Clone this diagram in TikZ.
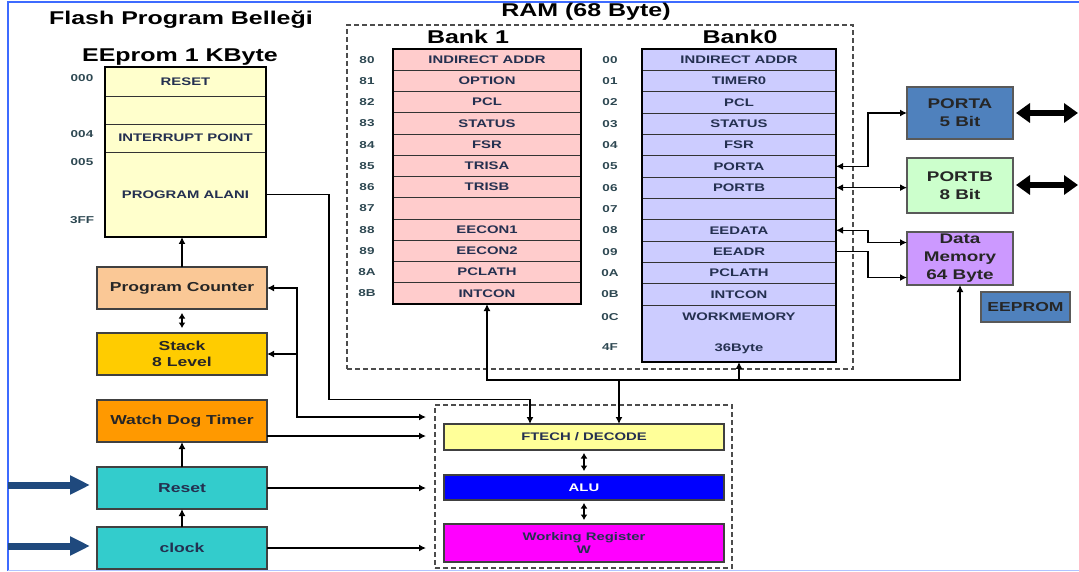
\documentclass[tikz,border=0pt]{standalone}
\usepackage{fontspec}
\setmainfont{Liberation Sans}[FakeStretch=1.35]
\usetikzlibrary{positioning, arrows.meta}

\definecolor{edgeblue}{HTML}{3D6BFF}
\definecolor{eeyellow}{HTML}{FFFFCC}
\definecolor{bankpink}{HTML}{FFCCCC}
\definecolor{banklav}{HTML}{CCCCFF}
\definecolor{pcpeach}{HTML}{FAC896}
\definecolor{stackgold}{HTML}{FFCC00}
\definecolor{wdtorange}{HTML}{FF9900}
\definecolor{resetteal}{HTML}{33CCCC}
\definecolor{fetchyellow}{HTML}{FFFF99}
\definecolor{alublue}{HTML}{0000FF}
\definecolor{wregmag}{HTML}{FF00FF}
\definecolor{portblue}{HTML}{4F81BD}
\definecolor{portgreen}{HTML}{CCFFCC}
\definecolor{memviolet}{HTML}{CC99FF}
\definecolor{inblue}{HTML}{1F497D}
\definecolor{regtext}{HTML}{243050}
\definecolor{addrtext}{HTML}{2E4852}

\begin{document}
\begin{tikzpicture}
  [
    x = 1pt, y = -1pt,  % pixel grid, y grows downwards
    every node/.style = {inner sep=0pt, outer sep=0pt, align=center},
    box/.style = {draw=black!75, line width=1.2pt, minimum width=170, minimum height=42,
                  text=black!85, font=\bfseries\fontsize{13}{15.5}\selectfont},
    reg/.style = {draw=black!80, line width=0.7pt, minimum height=21.3,
                  text=regtext, font=\bfseries\fontsize{11}{13}\selectfont},
    addr/.style = {text=addrtext, font=\bfseries\fontsize{10}{11}\selectfont},
    title/.style = {font=\bfseries\fontsize{18.5}{20}\selectfont},
    tabframe/.style = {draw=black, line width=2pt},
    port/.style = {draw=black!65, line width=1.2pt, minimum width=106,
                   text=black!85, font=\bfseries\fontsize{14}{18}\selectfont},
    wire/.style = {line width=1.6pt, >={Latex[length=7pt,width=7pt]}},
    dbl/.style = {line width=1.6pt, {Latex[length=5.5pt,width=7pt]}-{Latex[length=5.5pt,width=7pt]}},
    bigin/.style = {draw=inblue, line width=7pt, -{Triangle[length=20pt,width=18pt]}},
    bigio/.style = {draw=black, line width=6pt, {Triangle[length=14pt,width=19pt]}-{Triangle[length=14pt,width=19pt]}},
    ram/.style = {draw=black!70, line width=1.1pt, dash pattern=on 5pt off 3pt}
  ]
  \useasboundingbox (0,0) rectangle (1079,572);
  \fill[white] (0,0) rectangle (1079,572);
  \draw[edgeblue, line width=2pt] (1079,2) -- (7.5,2) -- (7.5,570.5);
  \draw[edgeblue!40, line width=1.5pt] (7.5,570.5) -- (1079,570.5);

  % program memory
  \node[title] (flash) at (181,20) {Flash Program Belleği};
  \node[title] (eeprom) at (180,57) {EEprom 1 KByte};
  \node[reg, fill=eeyellow, minimum width=161, minimum height=29] (ee1) at (185.5,81.5) {RESET};
  \node[reg, fill=eeyellow, minimum width=161, minimum height=28, below=0pt of ee1] (ee2) {};
  \node[reg, fill=eeyellow, minimum width=161, minimum height=28, below=0pt of ee2] (ee3) {INTERRUPT POINT};
  \node[reg, fill=eeyellow, minimum width=161, minimum height=85, below=0pt of ee3] (ee4) {PROGRAM ALANI};
  \draw[tabframe] (ee1.north west) rectangle (ee4.south east);
  \node[addr] (ea1) at (82,78) {000};
  \node[addr] (ea2) at (82,134) {004};
  \node[addr] (ea3) at (82,162) {005};
  \node[addr] (ea4) at (82,220) {3FF};

  % RAM banks
  \node[ram, minimum width=506, minimum height=344] (ramb) at (600,197) {};
  \node[title] (ramt) at (586,12) {RAM (68 Byte)};
  \node[title] (bank1) at (468,37) {Bank 1};
  \node[title] (bank0) at (740,37) {Bank0};
  \foreach \a/\t [count=\i] in {80/INDIRECT ADDR, 81/OPTION, 82/PCL, 83/STATUS, 84/FSR, 85/TRISA,
                                86/TRISB, 87/{}, 88/EECON1, 89/EECON2, 8A/PCLATH, 8B/INTCON}
  {
    \node[reg, fill=bankpink, minimum width=188] (b1r\i) at (487,{49+(\i-0.5)*21.25}) {\t};
    \node[addr] (b1a\i) at (367,{49+(\i-0.5)*21.25}) {\a};
  }
  \draw[tabframe] (b1r1.north west) rectangle (b1r12.south east);
  \foreach \a/\t [count=\i] in {00/INDIRECT ADDR, 01/TIMER0, 02/PCL, 03/STATUS, 04/FSR, 05/PORTA,
                                06/PORTB, 07/{}, 08/EEDATA, 09/EEADR, 0A/PCLATH, 0B/INTCON}
  {
    \node[reg, fill=banklav, minimum width=194] (b0r\i) at (739,{49+(\i-0.5)*21.33}) {\t};
    \node[addr] (b0a\i) at (610,{49+(\i-0.5)*21.33}) {\a};
  }
  \node[reg, fill=banklav, minimum width=194, minimum height=57, below=0pt of b0r12] (b0w) {WORKMEMORY\\[18pt]36Byte};
  \node[addr] (b0a13) at (610,317) {0C};
  \node[addr] (b0a14) at (610,347) {4F};
  \draw[tabframe] (b0r1.north west) rectangle (b0w.south east);

  % ports and data memory
  \node[port, fill=portblue, minimum height=52] (porta) at (960,113) {PORTA\\5 Bit};
  \node[port, fill=portgreen, minimum height=55] (portb) at (960,185.5) {PORTB\\8 Bit};
  \node[port, fill=memviolet, minimum height=53] (dmem) at (960,258.5) {Data\\Memory\\64 Byte};
  \node[port, fill=portblue, minimum width=89, minimum height=30,
        font=\bfseries\fontsize{13}{15}\selectfont] (eepromb) at (1025.5,307) {EEPROM};
  \coordinate (paout) at (1078,113);
  \coordinate (pbout) at (1078,185);
  \draw[bigio] ([xshift=3pt]porta.east) -- (paout);
  \draw[bigio] ([xshift=3pt]portb.east |- pbout) -- (pbout);

  % left column
  \node[box, fill=pcpeach] (pc) at (182,288) {Program Counter};
  \node[box, fill=stackgold, below=24pt of pc] (stack) {Stack\\8 Level};
  \node[box, fill=wdtorange, below=25pt of stack] (wdt) {Watch Dog Timer};
  \node[box, fill=resetteal, text=regtext, below=25pt of wdt] (reset) {Reset};
  \node[box, fill=resetteal, text=regtext, below=18pt of reset] (clock) {clock};
  \coordinate (rin) at (8,485);
  \coordinate (cin) at (8,546);
  \draw[bigin] (rin) -- (90,485);
  \draw[bigin] (cin) -- (90,546);

  % CPU core
  \node[ram, minimum width=297, minimum height=163] (cpu) at (583.5,486.5) {};
  \node[box, fill=fetchyellow, minimum width=280, minimum height=26,
        font=\bfseries\fontsize{11}{13}\selectfont, text=regtext] (fetch) at (584,437) {FTECH / DECODE};
  \node[box, fill=alublue, minimum width=280, minimum height=25,
        font=\bfseries\fontsize{11}{13}\selectfont, text=white] (alu) at (584,487.5) {ALU};
  \node[box, fill=wregmag, minimum width=280, minimum height=38,
        font=\bfseries\fontsize{11}{13}\selectfont, text=regtext] (wreg) at (584,543) {Working Register\\W};
  \draw[dbl] ([yshift=-3pt]fetch.south) -- ([yshift=4pt]alu.north);
  \draw[dbl] ([yshift=-3pt]alu.south) -- ([yshift=4pt]wreg.north);

  % connectors
  \coordinate (in1) at (426,417);
  \coordinate (in2) at (426,436);
  \coordinate (in3) at (426,490);
  \coordinate (in4) at (426,552);
  \coordinate (bus) at (619,380);
  \begin{scope}[wire]
    \draw[->] (pc.north) -- (pc.north |- ee4.south);
    \draw[dbl] ([yshift=-4pt]pc.south) -- ([yshift=5pt]stack.north);
    \draw[->] (reset.north) -- (wdt.south);
    \draw[->] (clock.north) -- (reset.south);
    \draw[<->] (pc.east) -- ++(30,0) coordinate (pcbus) |- (in1);
    \draw[->] (pcbus |- stack.east) -- (stack.east);
    \draw[->] (wdt.east |- in2) -- (in2);
    \draw[->] (reset.east) -- (reset.east -| in3);
    \draw[->] (clock.east) -- (clock.east -| in4);
    \draw[->] (ee4.east) -- ++(63,0) -- ++(0,205) -| ([xshift=-54pt]fetch.north);
    \draw[<->] (b1r12.south) |- (dmem.south |- bus) -- (dmem.south);
    \draw[->] (b0w.south |- bus) -- (b0w.south);
    \draw[->] (bus) -- (bus |- fetch.north);
    \draw[<->] (b0r6.east) -- ++(32,0) |- (porta.west);
    \draw[<->] (b0r7.east) -- (b0r7.east -| portb.west);
    \draw[<->] (b0r9.east) -- ++(32,0) |- ([yshift=16pt]dmem.west);
    \draw[->] (b0r10.east) -- ++(32,0) |- ([yshift=-19pt]dmem.west);
  \end{scope}
\end{tikzpicture}
\end{document}
